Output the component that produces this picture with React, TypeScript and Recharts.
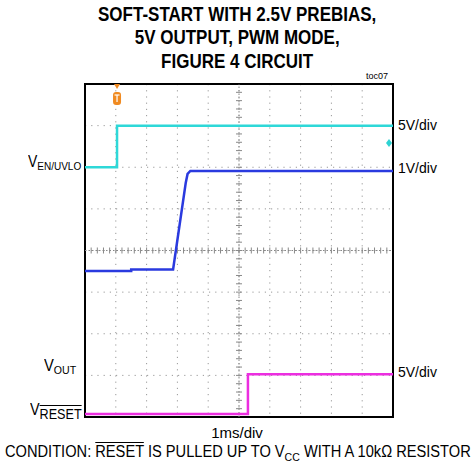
import React from 'react';
import {
    LineChart, Line, XAxis, YAxis, CartesianGrid,
    ReferenceLine, ReferenceArea, ReferenceDot
} from 'recharts';

// time in ms (1ms/div), level in screen divisions (0 = bottom of screen)
const xTicks = [0, 1, 2, 3, 4, 5, 6, 7, 8, 9, 10];
const yTicks = [0, 1, 2, 3, 4, 5, 6, 7, 8];

const enTime = [0, 1.04, 1.04, 10];
const enLevel = [6.0, 6.0, 7.0, 7.0];

const outTime = [0, 1.5, 1.5, 2.86, 3.27, 3.33, 3.42, 10];
const outLevel = [3.51, 3.51, 3.545, 3.545, 5.62, 5.84, 5.91, 5.91];

const rstTime = [0, 5.29, 5.29, 10];
const rstLevel = [0.07, 0.07, 1.03, 1.03];

const triggerAt = 1.04;
const enMarkerLevel = 6.58;

const toPoints = (t: number[], v: number[]) => t.map((x, i) => ({ t: x, v: v[i] }));

const FONT = '"Liberation Sans", Arial, sans-serif';

const centerV = (p: any) => {
    const { x1, y1, y2 } = p;
    const step = (y2 - y1) / 40;
    const ticks = [];
    for (let i = 1; i < 40; i++) {
        const y = y1 + i * step;
        ticks.push(<line key={i} x1={x1 - 3} x2={x1 + 3} y1={y} y2={y} stroke="#888" strokeWidth={1} />);
    }
    return (
        <g>
            <line x1={x1} x2={x1} y1={y1} y2={y2} stroke="#888" strokeWidth={1} strokeDasharray="1.5 2" />
            {ticks}
        </g>
    );
};

const centerH = (p: any) => {
    const { x1, x2, y1 } = p;
    const step = (x2 - x1) / 50;
    const ticks = [];
    for (let i = 1; i < 50; i++) {
        const x = x1 + i * step;
        ticks.push(<line key={i} x1={x} x2={x} y1={y1 - 3} y2={y1 + 3} stroke="#888" strokeWidth={1} />);
    }
    return (
        <g>
            <line x1={x1} x2={x2} y1={y1} y2={y1} stroke="#888" strokeWidth={1} strokeDasharray="1.5 2" />
            {ticks}
        </g>
    );
};

const TriggerMark = (p: any) => {
    const { cx, cy } = p;
    return (
        <g>
            <path d={`M${cx - 3},${cy} L${cx + 3},${cy} L${cx},${cy + 5} Z`} fill="#f08a20" />
            <rect x={cx - 4} y={cy + 8} width={8} height={13} rx={3} fill="#f08a20" />
            <line x1={cx - 2.5} x2={cx + 2.5} y1={cy + 11} y2={cy + 11} stroke="#fff" strokeWidth={1.2} />
            <line x1={cx} x2={cx} y1={cy + 11} y2={cy + 18} stroke="#fff" strokeWidth={1.2} />
        </g>
    );
};

const EnMark = (p: any) => {
    const { cx, cy } = p;
    return <path d={`M${cx - 7},${cy} L${cx - 4},${cy - 4} L${cx - 1},${cy} L${cx - 4},${cy + 4} Z`} fill="#2ed3d3" />;
};

const abs = (left: number, top: number, extra: React.CSSProperties = {}): React.CSSProperties => ({
    position: 'absolute', left, top, fontFamily: FONT, color: '#000', whiteSpace: 'nowrap', ...extra
});

// text squeezed horizontally to look like the narrow face of the original
const Narrow = ({ left, top, scale, size, bold, children }: any) => (
    <div style={abs(left, top, {
        width: 'max-content', fontSize: size, fontWeight: bold ? 'bold' : 'normal',
        transformOrigin: 'left top', transform: `scaleX(${scale})`
    })}>{children}</div>
);

export default function App() {
    return (
        <div style={{ position: 'absolute', left: 0, top: 0, width: 474, height: 468, background: '#fff' }}>
            <div style={abs(0, 3, {
                width: 474, textAlign: 'center', fontWeight: 'bold', fontSize: 20, lineHeight: '23.3px',
                transform: 'scaleX(0.85)', transformOrigin: '238px 0'
            })}>
                SOFT-START WITH 2.5V PREBIAS,<br />5V OUTPUT, PWM MODE,<br />FIGURE 4 CIRCUIT
            </div>
            <div style={abs(366, 71, { fontSize: 9 })}>toc07</div>

            <LineChart width={474} height={468} margin={{ top: 84, left: 85, right: 81, bottom: 51 }}
                style={{ position: 'absolute', left: 0, top: 0 }}>
                <XAxis type="number" dataKey="t" domain={[0, 10]} ticks={xTicks} hide />
                <YAxis type="number" dataKey="v" domain={[0, 8]} ticks={yTicks} hide />
                <CartesianGrid stroke="#999" strokeDasharray="1.2 5" />
                <ReferenceLine x={5} shape={centerV} />
                <ReferenceLine y={4} shape={centerH} />
                <Line data={toPoints(enTime, enLevel)} dataKey="v" stroke="#2ed8d8" strokeWidth={2.5}
                    dot={false} isAnimationActive={false} />
                <Line data={toPoints(outTime, outLevel)} dataKey="v" stroke="#2a3adf" strokeWidth={2.5}
                    dot={false} isAnimationActive={false} />
                <Line data={toPoints(rstTime, rstLevel)} dataKey="v" stroke="#ec2ee0" strokeWidth={2.5}
                    dot={false} isAnimationActive={false} />
                <ReferenceArea x1={0} x2={10} y1={0} y2={8} fill="none" stroke="#000" strokeWidth={2} />
                <ReferenceDot x={triggerAt} y={8} shape={TriggerMark} />
                <ReferenceDot x={10} y={enMarkerLevel} shape={EnMark} />
            </LineChart>

            <div style={abs(398, 117, { fontSize: 14 })}>5V/div</div>
            <div style={abs(398, 160, { fontSize: 14 })}>1V/div</div>
            <div style={abs(398, 364, { fontSize: 14 })}>5V/div</div>

            <Narrow left={28} top={153} size={16} scale={0.87}>V<sub style={{ fontSize: 11.5, verticalAlign: '-3px' }}>EN/UVLO</sub></Narrow>
            <Narrow left={44} top={357} size={16} scale={0.92}>V<sub style={{ fontSize: 11.5, verticalAlign: '-3px' }}>OUT</sub></Narrow>
            <Narrow left={30} top={401} size={16} scale={0.9}>V<sub style={{ fontSize: 14, verticalAlign: '-4px', textDecoration: 'overline' }}>RESET</sub></Narrow>

            <div style={abs(0, 424, { width: 474, textAlign: 'center', fontSize: 15 })}>1ms/div</div>
            <Narrow left={5} top={443} size={16} scale={0.915}>
                CONDITION: <span style={{ textDecoration: 'overline' }}>RESET</span> IS PULLED UP TO V<sub style={{ fontSize: 11.5 }}>CC</sub> WITH A 10kΩ RESISTOR
            </Narrow>
        </div>
    );
}
